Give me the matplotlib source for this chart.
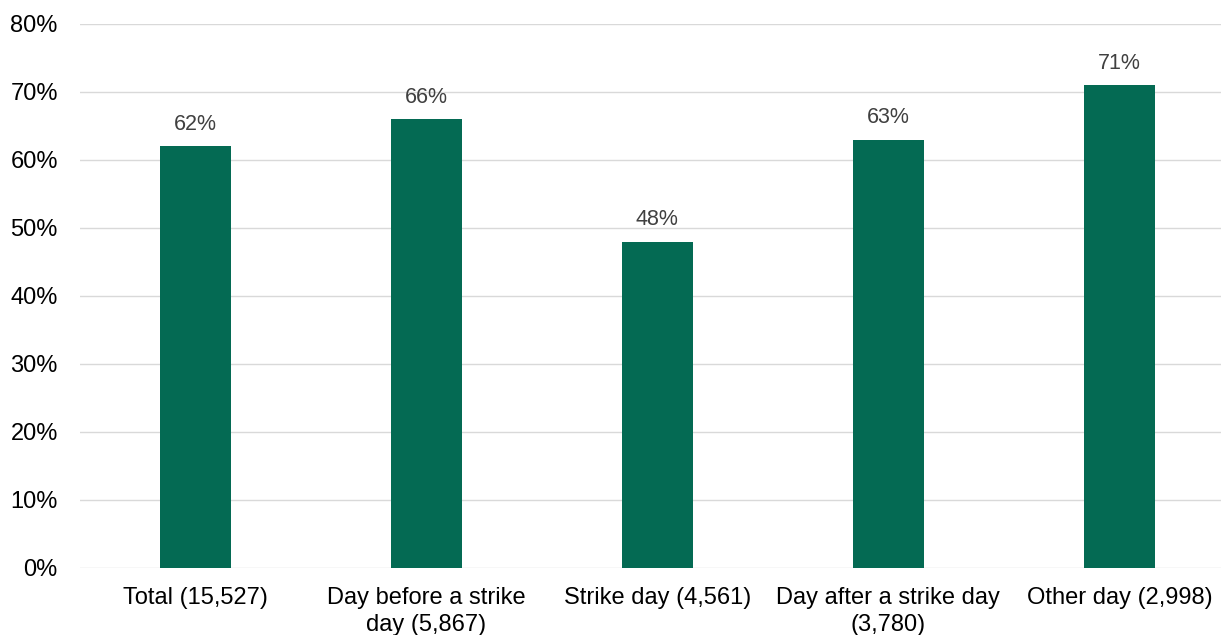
import matplotlib
matplotlib.use("Agg")
import matplotlib.pyplot as plt
from matplotlib.ticker import PercentFormatter, MultipleLocator

categories = [
    "Total (15,527)",
    "Day before a strike\nday (5,867)",
    "Strike day (4,561)",
    "Day after a strike day\n(3,780)",
    "Other day (2,998)",
]
values = [62, 66, 48, 63, 71]

plt.rcParams["font.family"] = ["Liberation Sans", "DejaVu Sans"]

W, H = 1221, 635
fig = plt.figure(figsize=(W / 100, H / 100), dpi=100)
ax = fig.add_axes([80 / W, (H - 568) / H, (W - 80) / W, (568 - 24) / H])

x = range(len(categories))
ax.bar(x, values, width=0.31, color="#046A53", zorder=3)

for xi, v in zip(x, values):
    ax.annotate(f"{v}%", (xi, v), xytext=(0, 8), textcoords="offset points",
                ha="center", va="bottom", fontsize=15.5, color="#404040")

ax.set_ylim(0, 80)
ax.set_xlim(-0.5, 4.44)
ax.yaxis.set_major_locator(MultipleLocator(10))
ax.yaxis.set_major_formatter(PercentFormatter(decimals=0))
ax.set_xticks(list(x))
ax.set_xticklabels(categories, linespacing=1.25)

ax.grid(axis="y", color="#D9D9D9", linewidth=1.0, zorder=0)
ax.tick_params(axis="y", length=0, pad=16, labelsize=17, labelcolor="black")
ax.tick_params(axis="x", length=0, pad=14, labelsize=17, labelcolor="black")
for s in ax.spines.values():
    s.set_visible(False)

fig.savefig("out.png", dpi=100)
